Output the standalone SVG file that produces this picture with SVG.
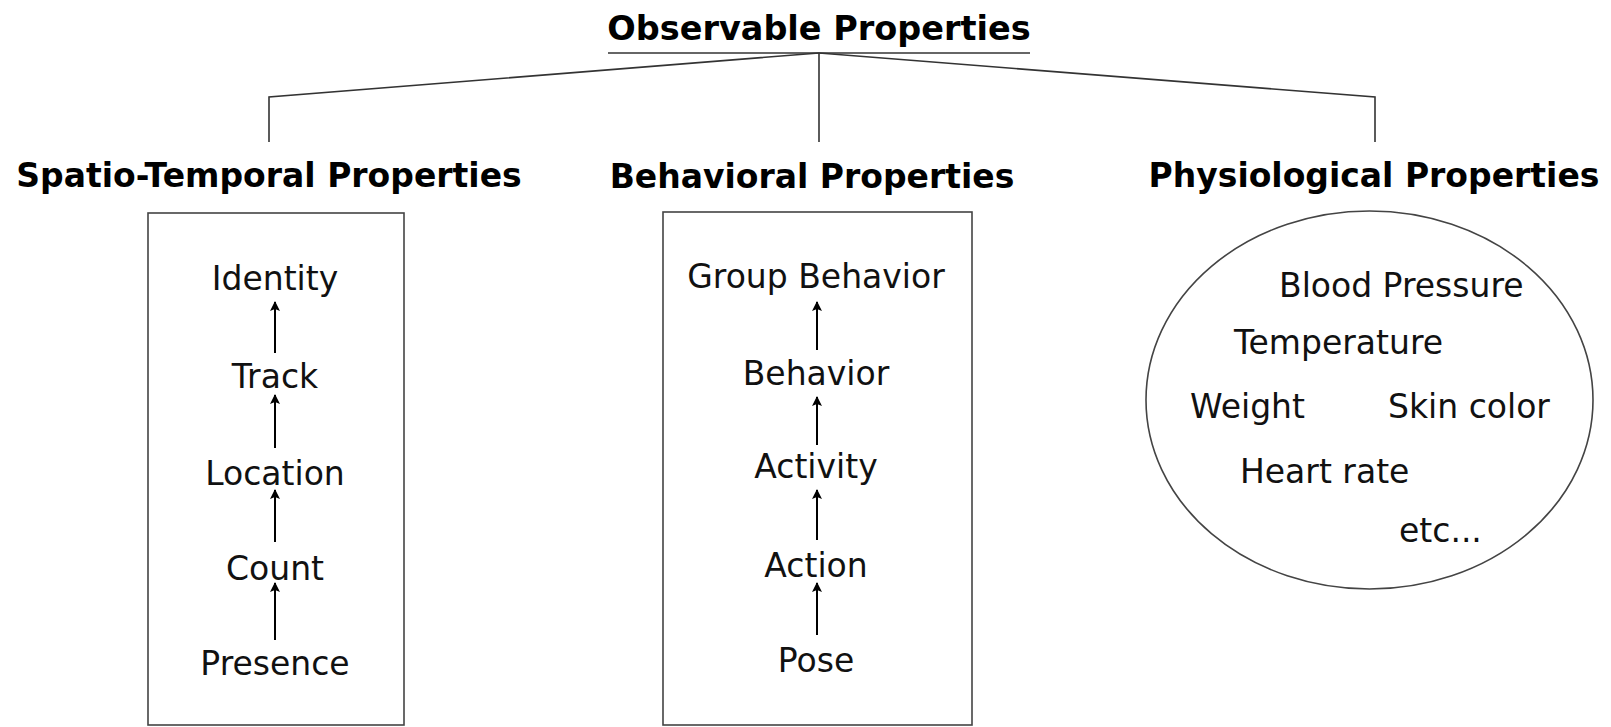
<svg xmlns="http://www.w3.org/2000/svg" width="1611" height="727" viewBox="0 0 1611 727">
<style>
.h{font-family:"DejaVu Sans","Verdana",sans-serif;font-weight:bold;font-size:33px;fill:#000;text-anchor:middle}
.t{font-family:"DejaVu Sans","Verdana",sans-serif;font-size:33px;fill:#111}
.c{text-anchor:middle}
.ln{fill:none;stroke:#333;stroke-width:1.6}
.box{fill:none;stroke:#444;stroke-width:1.6}
.ar{stroke:#000;stroke-width:2;marker-end:url(#ah)}
</style>
<defs>
<marker id="ah" viewBox="0 0 10 14" refX="9" refY="7" markerWidth="10" markerHeight="14" markerUnits="userSpaceOnUse" orient="auto">
<path d="M0,2 L10,7 L0,12 L2,7 Z" fill="#000"/>
</marker>
</defs>
<rect width="1611" height="727" fill="#fff"/>
<g id="root">
<text class="h" x="819" y="40" style="font-size:33.5px">Observable Properties</text>
<line class="ln" x1="608" y1="53" x2="1030" y2="53"/>
</g>
<g id="spatio">
<text class="h" x="269" y="187">Spatio-Temporal Properties</text>
<rect class="box" x="148" y="213" width="256" height="512"/>
<text class="t c" x="275" y="290">Identity</text>
<text class="t c" x="275" y="388">Track</text>
<text class="t c" x="275" y="485">Location</text>
<text class="t c" x="275" y="580">Count</text>
<text class="t c" x="275" y="675">Presence</text>
</g>
<g id="behavioral">
<text class="h" x="812" y="188">Behavioral Properties</text>
<rect class="box" x="663" y="212" width="309" height="513"/>
<text class="t c" x="816" y="288">Group Behavior</text>
<text class="t c" x="816" y="385">Behavior</text>
<text class="t c" x="816" y="478">Activity</text>
<text class="t c" x="816" y="577">Action</text>
<text class="t c" x="816" y="672">Pose</text>
</g>
<g id="physiological">
<text class="h" x="1374" y="187">Physiological Properties</text>
<ellipse class="box" cx="1369.5" cy="400" rx="223.5" ry="189"/>
<text class="t" x="1279" y="297">Blood Pressure</text>
<text class="t" x="1234" y="354">Temperature</text>
<text class="t" x="1190" y="418">Weight</text>
<text class="t" x="1388" y="418">Skin color</text>
<text class="t" x="1240" y="483">Heart rate</text>
<text class="t" x="1399" y="542">etc...</text>
</g>
<g id="connectors">
<polyline class="ln" points="269,142 269,97 819,53"/>
<line class="ln" x1="819" y1="53" x2="819" y2="142"/>
<polyline class="ln" points="1375,142 1375,97 819,53"/>
<line class="ar" x1="275" y1="353" x2="275" y2="302"/>
<line class="ar" x1="275" y1="448" x2="275" y2="395"/>
<line class="ar" x1="275" y1="542" x2="275" y2="490"/>
<line class="ar" x1="275" y1="640" x2="275" y2="583"/>
<line class="ar" x1="817" y1="350" x2="817" y2="302"/>
<line class="ar" x1="817" y1="445" x2="817" y2="397"/>
<line class="ar" x1="817" y1="540" x2="817" y2="490"/>
<line class="ar" x1="817" y1="635" x2="817" y2="583"/>
</g>
</svg>
